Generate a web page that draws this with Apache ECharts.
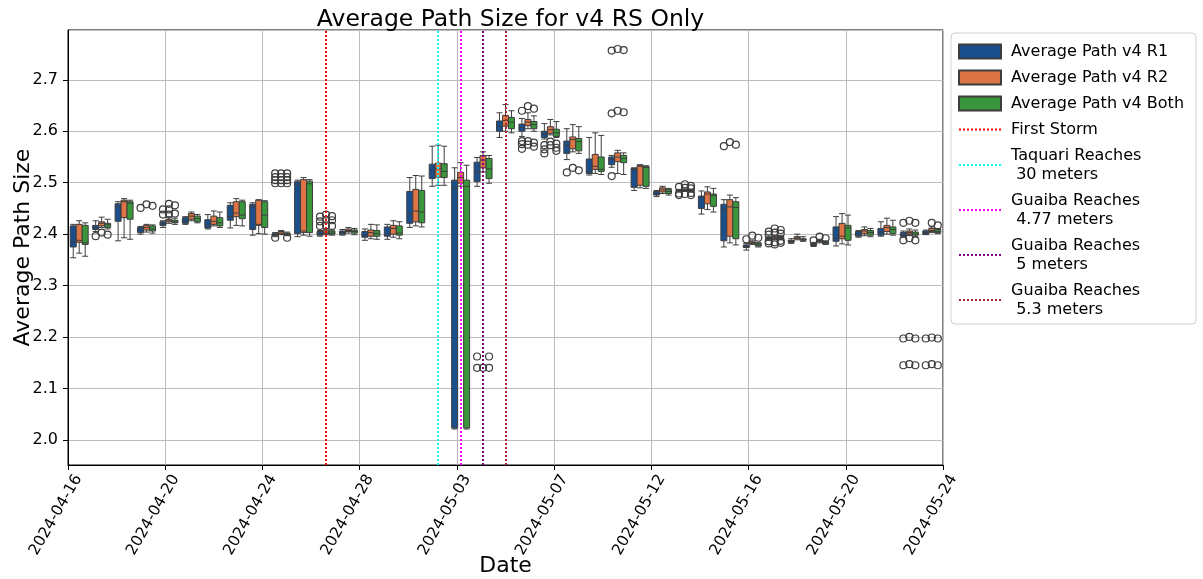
<!DOCTYPE html>
<html>
<head>
<meta charset="utf-8">
<title>Average Path Size for v4 RS Only</title>
<script src="https://cdn.jsdelivr.net/npm/echarts@6/dist/echarts.min.js"></script>
<style>
  html, body { margin: 0; padding: 0; background: #fff; }
  #chart { width: 1203px; height: 579px; }
</style>
</head>
<body>
<div id="chart"></div>
<script>
// one category per day, 2024-04-16 .. 2024-05-24
const categories = [
  '2024-04-16', '2024-04-17', '2024-04-18', '2024-04-19', '2024-04-20', '2024-04-21', '2024-04-22',
  '2024-04-23', '2024-04-24', '2024-04-25', '2024-04-26', '2024-04-27', '2024-04-28', '2024-04-29',
  '2024-04-30', '2024-05-01', '2024-05-02', '2024-05-03', '2024-05-04', '2024-05-05', '2024-05-06',
  '2024-05-07', '2024-05-08', '2024-05-09', '2024-05-10', '2024-05-11', '2024-05-12', '2024-05-13',
  '2024-05-14', '2024-05-15', '2024-05-16', '2024-05-17', '2024-05-18', '2024-05-19', '2024-05-20',
  '2024-05-21', '2024-05-22', '2024-05-23', '2024-05-24'
];
const tickLabels = ['2024-04-16', '2024-04-20', '2024-04-24', '2024-04-28', '2024-05-03',
  '2024-05-07', '2024-05-12', '2024-05-16', '2024-05-20', '2024-05-24'];

// [min, q1, median, q3, max]
const r1Boxes = [
  [2.354, 2.375, 2.385, 2.416, 2.419], [2.405, 2.409, 2.413, 2.417, 2.426], [2.387, 2.425, 2.453, 2.459, 2.463],
  [2.400, 2.403, 2.408, 2.413, 2.415], [2.413, 2.417, 2.420, 2.424, 2.426], [2.419, 2.421, 2.425, 2.432, 2.434],
  [2.410, 2.412, 2.419, 2.428, 2.438], [2.412, 2.427, 2.434, 2.456, 2.461], [2.398, 2.409, 2.453, 2.458, 2.461],
  [2.395, 2.397, 2.399, 2.401, 2.403], [2.395, 2.401, 2.497, 2.502, 2.505], [2.396, 2.398, 2.401, 2.405, 2.407],
  [2.398, 2.400, 2.403, 2.406, 2.409], [2.388, 2.394, 2.397, 2.405, 2.410], [2.390, 2.396, 2.400, 2.414, 2.419],
  [2.413, 2.421, 2.439, 2.483, 2.510], [2.493, 2.508, 2.523, 2.536, 2.571], [2.021, 2.023, 2.489, 2.505, 2.529],
  [2.493, 2.502, 2.521, 2.540, 2.549], [2.588, 2.600, 2.610, 2.620, 2.636], [2.590, 2.600, 2.607, 2.614, 2.625],
  [2.585, 2.588, 2.594, 2.600, 2.615], [2.545, 2.557, 2.573, 2.581, 2.605], [2.515, 2.518, 2.522, 2.546, 2.588],
  [2.530, 2.535, 2.545, 2.550, 2.553], [2.485, 2.491, 2.526, 2.528, 2.529], [2.473, 2.476, 2.479, 2.483, 2.485],
  [2.482, 2.484, 2.485, 2.486, 2.487], [2.439, 2.450, 2.472, 2.474, 2.484], [2.375, 2.387, 2.447, 2.458, 2.467],
  [2.369, 2.374, 2.376, 2.379, 2.382], [2.388, 2.390, 2.392, 2.394, 2.396], [2.382, 2.384, 2.386, 2.388, 2.391],
  [2.376, 2.378, 2.380, 2.382, 2.384], [2.377, 2.386, 2.392, 2.414, 2.434], [2.394, 2.396, 2.400, 2.405, 2.407],
  [2.396, 2.398, 2.404, 2.411, 2.424], [2.394, 2.396, 2.398, 2.403, 2.406], [2.399, 2.400, 2.403, 2.406, 2.408]
];
const r2Boxes = [
  [2.363, 2.384, 2.388, 2.419, 2.426], [2.413, 2.416, 2.421, 2.424, 2.433], [2.393, 2.432, 2.463, 2.466, 2.469],
  [2.404, 2.408, 2.413, 2.417, 2.419], [2.421, 2.424, 2.427, 2.429, 2.434], [2.426, 2.429, 2.435, 2.440, 2.443],
  [2.416, 2.419, 2.425, 2.435, 2.445], [2.417, 2.434, 2.441, 2.463, 2.469], [2.401, 2.417, 2.419, 2.466, 2.467],
  [2.399, 2.400, 2.402, 2.405, 2.407], [2.398, 2.403, 2.406, 2.506, 2.510], [2.399, 2.401, 2.404, 2.408, 2.410],
  [2.402, 2.405, 2.407, 2.410, 2.413], [2.391, 2.396, 2.403, 2.408, 2.419], [2.394, 2.400, 2.411, 2.417, 2.426],
  [2.416, 2.424, 2.445, 2.487, 2.514], [2.495, 2.511, 2.527, 2.538, 2.573], [2.493, 2.499, 2.510, 2.520, 2.539],
  [2.521, 2.529, 2.544, 2.553, 2.560], [2.600, 2.610, 2.621, 2.631, 2.652], [2.605, 2.611, 2.618, 2.623, 2.636],
  [2.593, 2.596, 2.603, 2.609, 2.623], [2.560, 2.566, 2.584, 2.589, 2.613], [2.518, 2.526, 2.532, 2.555, 2.597],
  [2.518, 2.541, 2.550, 2.558, 2.563], [2.490, 2.495, 2.532, 2.534, 2.535], [2.479, 2.482, 2.486, 2.490, 2.493],
  [2.483, 2.485, 2.486, 2.487, 2.488], [2.448, 2.459, 2.478, 2.482, 2.492], [2.383, 2.396, 2.453, 2.467, 2.476],
  [2.380, 2.382, 2.383, 2.385, 2.387], [2.390, 2.392, 2.394, 2.396, 2.398], [2.389, 2.391, 2.393, 2.395, 2.400],
  [2.383, 2.385, 2.386, 2.388, 2.390], [2.381, 2.391, 2.396, 2.421, 2.440], [2.397, 2.401, 2.406, 2.409, 2.414],
  [2.400, 2.405, 2.413, 2.417, 2.431], [2.397, 2.400, 2.403, 2.406, 2.410], [2.403, 2.405, 2.407, 2.411, 2.414]
];
const bothBoxes = [
  [2.357, 2.380, 2.383, 2.417, 2.422], [2.410, 2.413, 2.418, 2.421, 2.429], [2.390, 2.429, 2.460, 2.463, 2.466],
  [2.402, 2.406, 2.410, 2.416, 2.418], [2.419, 2.422, 2.424, 2.427, 2.431], [2.422, 2.424, 2.430, 2.435, 2.438],
  [2.413, 2.416, 2.422, 2.432, 2.443], [2.416, 2.430, 2.437, 2.463, 2.466], [2.400, 2.413, 2.437, 2.463, 2.465],
  [2.397, 2.398, 2.400, 2.402, 2.404], [2.396, 2.403, 2.498, 2.503, 2.506], [2.398, 2.400, 2.402, 2.406, 2.408],
  [2.399, 2.402, 2.405, 2.408, 2.411], [2.390, 2.396, 2.401, 2.407, 2.418], [2.391, 2.398, 2.402, 2.416, 2.424],
  [2.414, 2.422, 2.443, 2.485, 2.513], [2.495, 2.510, 2.522, 2.537, 2.571], [2.021, 2.023, 2.493, 2.505, 2.534],
  [2.499, 2.508, 2.527, 2.547, 2.553], [2.597, 2.605, 2.618, 2.627, 2.640], [2.600, 2.605, 2.613, 2.619, 2.630],
  [2.588, 2.590, 2.597, 2.604, 2.619], [2.557, 2.562, 2.580, 2.586, 2.609], [2.516, 2.522, 2.526, 2.550, 2.592],
  [2.516, 2.539, 2.547, 2.553, 2.558], [2.489, 2.493, 2.530, 2.531, 2.533], [2.476, 2.479, 2.483, 2.487, 2.489],
  [2.482, 2.484, 2.485, 2.486, 2.487], [2.443, 2.454, 2.475, 2.478, 2.489], [2.379, 2.391, 2.452, 2.463, 2.471],
  [2.375, 2.377, 2.379, 2.382, 2.384], [2.389, 2.391, 2.393, 2.395, 2.397], [2.386, 2.388, 2.389, 2.391, 2.395],
  [2.380, 2.381, 2.383, 2.385, 2.387], [2.379, 2.388, 2.412, 2.417, 2.437], [2.395, 2.398, 2.403, 2.407, 2.411],
  [2.398, 2.401, 2.409, 2.414, 2.427], [2.395, 2.398, 2.400, 2.404, 2.408], [2.401, 2.403, 2.405, 2.409, 2.411]
];

// [date, value]
const r1Outliers = [
  ['2024-04-17', 2.396], ['2024-04-19', 2.451], ['2024-04-20', 2.448], ['2024-04-20', 2.438],
  ['2024-04-25', 2.518], ['2024-04-25', 2.511], ['2024-04-25', 2.505], ['2024-04-25', 2.499], ['2024-04-25', 2.393],
  ['2024-04-27', 2.434], ['2024-04-27', 2.425], ['2024-04-27', 2.416],
  ['2024-05-04', 2.162], ['2024-05-04', 2.140],
  ['2024-05-06', 2.640], ['2024-05-06', 2.581], ['2024-05-06', 2.575], ['2024-05-06', 2.566],
  ['2024-05-07', 2.573], ['2024-05-07', 2.565], ['2024-05-07', 2.557], ['2024-05-08', 2.520],
  ['2024-05-10', 2.757], ['2024-05-10', 2.635], ['2024-05-10', 2.513],
  ['2024-05-13', 2.492], ['2024-05-13', 2.479], ['2024-05-13', 2.476], ['2024-05-15', 2.571], ['2024-05-16', 2.390],
  ['2024-05-17', 2.405], ['2024-05-17', 2.399], ['2024-05-17', 2.386], ['2024-05-17', 2.382], ['2024-05-19', 2.388],
  ['2024-05-23', 2.422], ['2024-05-23', 2.388], ['2024-05-23', 2.197], ['2024-05-23', 2.145],
  ['2024-05-24', 2.197], ['2024-05-24', 2.145]
];
const r2Outliers = [
  ['2024-04-17', 2.403], ['2024-04-19', 2.458], ['2024-04-20', 2.459], ['2024-04-20', 2.448], ['2024-04-20', 2.438],
  ['2024-04-25', 2.518], ['2024-04-25', 2.511], ['2024-04-25', 2.505], ['2024-04-25', 2.499],
  ['2024-04-27', 2.438], ['2024-04-27', 2.428], ['2024-04-27', 2.417],
  ['2024-05-04', 2.140],
  ['2024-05-06', 2.649], ['2024-05-06', 2.581], ['2024-05-06', 2.574],
  ['2024-05-07', 2.580], ['2024-05-07', 2.573], ['2024-05-08', 2.529],
  ['2024-05-10', 2.760], ['2024-05-10', 2.640],
  ['2024-05-13', 2.497], ['2024-05-13', 2.490], ['2024-05-13', 2.478], ['2024-05-15', 2.579], ['2024-05-16', 2.397],
  ['2024-05-17', 2.411], ['2024-05-17', 2.403], ['2024-05-17', 2.384], ['2024-05-17', 2.380], ['2024-05-19', 2.395],
  ['2024-05-23', 2.426], ['2024-05-23', 2.392], ['2024-05-23', 2.200], ['2024-05-23', 2.147],
  ['2024-05-24', 2.422], ['2024-05-24', 2.199], ['2024-05-24', 2.147]
];
const bothOutliers = [
  ['2024-04-17', 2.399], ['2024-04-19', 2.455], ['2024-04-20', 2.456], ['2024-04-20', 2.440],
  ['2024-04-25', 2.518], ['2024-04-25', 2.511], ['2024-04-25', 2.505], ['2024-04-25', 2.499], ['2024-04-25', 2.393],
  ['2024-04-27', 2.435], ['2024-04-27', 2.427], ['2024-04-27', 2.416],
  ['2024-05-04', 2.162], ['2024-05-04', 2.140],
  ['2024-05-06', 2.644], ['2024-05-06', 2.578], ['2024-05-06', 2.570],
  ['2024-05-07', 2.576], ['2024-05-07', 2.568], ['2024-05-07', 2.562], ['2024-05-08', 2.524],
  ['2024-05-10', 2.758], ['2024-05-10', 2.637],
  ['2024-05-13', 2.494], ['2024-05-13', 2.489], ['2024-05-13', 2.480], ['2024-05-13', 2.476],
  ['2024-05-15', 2.574], ['2024-05-16', 2.393],
  ['2024-05-17', 2.408], ['2024-05-17', 2.401], ['2024-05-17', 2.387], ['2024-05-17', 2.383], ['2024-05-19', 2.392],
  ['2024-05-23', 2.422], ['2024-05-23', 2.388], ['2024-05-23', 2.197], ['2024-05-23', 2.145],
  ['2024-05-24', 2.417], ['2024-05-24', 2.197], ['2024-05-24', 2.145]
];

const boxNames = ['Average Path v4 R1', 'Average Path v4 R2', 'Average Path v4 Both'];
const eventNames = ['First Storm', 'Taquari Reaches\n 30 meters', 'Guaiba Reaches\n 4.77 meters',
  'Guaiba Reaches\n 5 meters', 'Guaiba Reaches\n 5.3 meters'];
const eventDates = ['2024-04-27', '2024-05-02', '2024-05-03', '2024-05-04', '2024-05-05'];

// styles
const FONT = 'DejaVu Sans';
const boxColors = ['#1b4f8c', '#dd7446', '#3a963a'];
const eventColors = ['#ff0000', '#00ffff', '#ff00ff', '#800080', '#a52a2a'];
const edgeColor = '#3d3d3d';
const gridColor = '#bdbdbd';
const slot = 0.8 / 3;

const boxSets = [r1Boxes, r2Boxes, bothBoxes];
const outlierSets = [r1Outliers, r2Outliers, bothOutliers];
const boxData = [];
const outlierData = [];
boxSets.forEach((boxes, k) => {
  const off = (k - 1) * slot;
  boxes.forEach((b, i) => {
    boxData.push({ value: [i + 0.5 + off].concat(b), itemStyle: { color: boxColors[k] } });
  });
  outlierSets[k].forEach(([d, v]) => {
    outlierData.push([categories.indexOf(d) + 0.5 + off, v]);
  });
});

const series = [
  {
    type: 'boxplot',
    xAxisIndex: 0,
    yAxisIndex: 0,
    silent: true,
    boxWidth: [6, 6],
    itemStyle: { borderColor: edgeColor, borderWidth: 1 },
    data: boxData,
    z: 3
  },
  {
    type: 'scatter',
    xAxisIndex: 0,
    yAxisIndex: 0,
    silent: true,
    symbol: 'circle',
    symbolSize: 7,
    itemStyle: { color: 'rgba(255,255,255,0)', borderColor: edgeColor, borderWidth: 1.2, opacity: 1 },
    data: outlierData,
    z: 4
  }
];
// empty series so the legend gets the box patches
boxNames.forEach((name, k) => {
  series.push({
    name: name,
    type: 'scatter',
    xAxisIndex: 0,
    yAxisIndex: 0,
    itemStyle: { color: boxColors[k], borderColor: edgeColor, borderWidth: 1, opacity: 1 },
    data: []
  });
});
eventNames.forEach((name, k) => {
  series.push({
    name: name,
    type: 'line',
    xAxisIndex: 0,
    yAxisIndex: 0,
    symbol: 'none',
    color: eventColors[k],
    lineStyle: { color: eventColors[k], type: 'dotted', width: 2 },
    data: [],
    z: 5,
    markLine: {
      silent: true,
      symbol: ['none', 'none'],
      label: { show: false },
      lineStyle: { color: eventColors[k], type: 'dotted', width: 2 },
      data: [{ xAxis: categories.indexOf(eventDates[k]) + 0.5 }]
    }
  });
});

const chart = echarts.init(document.getElementById('chart'));
chart.setOption({
  animation: false,
  backgroundColor: '#fff',
  title: {
    text: 'Average Path Size for v4 RS Only',
    left: 505.5,
    top: 3,
    textAlign: 'center',
    textStyle: { fontFamily: FONT, fontSize: 23.5, fontWeight: 'normal', color: '#000' }
  },
  legend: {
    orient: 'vertical',
    left: 951,
    top: 33,
    itemWidth: 42,
    itemHeight: 14,
    itemGap: 7,
    padding: [9, 12, 5, 7],
    borderColor: '#d0d0d0',
    borderWidth: 1,
    borderRadius: 4,
    backgroundColor: '#fff',
    selectedMode: false,
    textStyle: { fontFamily: FONT, fontSize: 16, color: '#000', lineHeight: 19 },
    formatter: name => ' ' + name.split('\n').join('\n '),
    data: boxNames.map(n => ({ name: n, icon: 'rect' }))
      .concat(eventNames.map(n => ({ name: n, itemStyle: { opacity: 0 } })))
  },
  grid: {
    left: 68, right: 260, top: 30, bottom: 114,
    show: true, borderColor: '#000', borderWidth: 1,
    outerBoundsMode: 'none'
  },
  xAxis: [
    { type: 'value', min: 0, max: categories.length, show: false },
    {
      type: 'value',
      position: 'bottom',
      min: 0,
      max: tickLabels.length - 1,
      interval: 1,
      name: 'Date',
      nameLocation: 'middle',
      nameGap: 90,
      nameMoveOverlap: false,
      nameTextStyle: { fontFamily: FONT, fontSize: 22, color: '#000' },
      axisLine: { show: true, lineStyle: { color: '#000', width: 1 } },
      axisTick: { show: true, length: 5, lineStyle: { color: '#000' } },
      axisLabel: {
        rotate: 60,
        align: 'right',
        verticalAlign: 'top',
        margin: 5,
        padding: [4, 0, 0, 0],
        fontFamily: FONT,
        fontSize: 15.5,
        color: '#000',
        formatter: v => tickLabels[Math.round(v)]
      },
      splitLine: { show: true, lineStyle: { color: gridColor, width: 1 } }
    }
  ],
  yAxis: {
    type: 'value',
    min: 1.951,
    max: 2.797,
    splitNumber: 8,
    maxInterval: 0.1,
    name: 'Average Path Size',
    nameLocation: 'middle',
    nameGap: 34,
    nameMoveOverlap: false,
    nameTextStyle: { fontFamily: FONT, fontSize: 22, color: '#000' },
    axisLine: { show: true, lineStyle: { color: '#000', width: 1 } },
    axisTick: { show: true, length: 5, lineStyle: { color: '#000' } },
    axisLabel: {
      margin: 10,
      fontFamily: FONT,
      fontSize: 16,
      color: '#000',
      showMinLabel: false,
      showMaxLabel: false,
      formatter: v => v.toFixed(1)
    },
    splitLine: { show: true, lineStyle: { color: gridColor, width: 1 } }
  },
  series: series
});
</script>
</body>
</html>
